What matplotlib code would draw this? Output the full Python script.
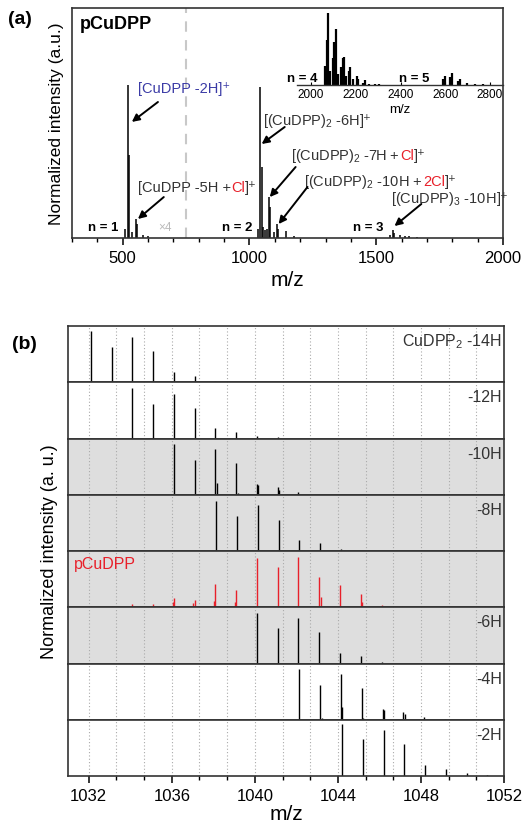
import numpy as np
import matplotlib
matplotlib.use('Agg')
import matplotlib.pyplot as plt
from matplotlib.ticker import MultipleLocator, AutoMinorLocator

plt.rcParams['font.family'] = ['Liberation Sans', 'DejaVu Sans']
plt.rcParams['mathtext.fontset'] = 'custom'
plt.rcParams['mathtext.rm'] = 'Liberation Sans'
plt.rcParams['mathtext.it'] = 'Liberation Sans:italic'
plt.rcParams['mathtext.bf'] = 'Liberation Sans:bold'
plt.rcParams['axes.linewidth'] = 1.2
plt.rcParams['axes.edgecolor'] = '#333333'

# ---- panel (a) data: peak m/z and normalized intensity ----
mz_n1 = [509, 520, 526, 537, 554, 557, 581, 600]
int_n1 = [0.06, 1.0, 0.54, 0.04, 0.124, 0.09, 0.02, 0.01]
mz_n2 = [1032, 1043, 1048, 1055, 1062, 1068, 1077, 1081, 1095, 1110, 1114, 1145, 1175]
int_n2 = [0.06, 0.985, 0.46, 0.07, 0.05, 0.06, 0.265, 0.20, 0.04, 0.09, 0.06, 0.045, 0.015]
mz_n3 = [1555, 1565, 1570, 1595, 1612, 1630, 1660]
int_n3 = [0.02, 0.05, 0.035, 0.02, 0.015, 0.01, 0.005]

# inset (n = 4, 5)
mz_in = [2062, 2070, 2074, 2085, 2097, 2104, 2112, 2122, 2134, 2141, 2146, 2156, 2168, 2174,
         2186, 2204, 2211, 2234, 2243, 2260, 2285, 2305,
         2591, 2598, 2623, 2632, 2657, 2665, 2695, 2732, 2769, 2800]
int_in = [0.27, 0.62, 1.0, 0.2, 0.37, 0.6, 0.78, 0.15, 0.25, 0.37, 0.39, 0.13, 0.2, 0.25,
          0.085, 0.12, 0.085, 0.03, 0.07, 0.01, 0.01, 0.01,
          0.085, 0.13, 0.11, 0.17, 0.05, 0.085, 0.03, 0.01, 0.01, 0.005]

# ---- panel (b) data: isotope patterns ----
labels_b = ['CuDPP$_2$ -14H', '-12H', '-10H', '-8H', 'pCuDPP', '-6H', '-4H', '-2H']
shaded_b = [False, False, True, True, True, True, False, False]

mz_14H = [1032.1, 1033.1, 1034.1, 1035.1, 1036.1, 1037.1, 1038.1]
int_14H = [0.91, 0.63, 0.81, 0.56, 0.19, 0.12, 0.03]
mz_12H = [1034.1, 1035.1, 1036.1, 1037.1, 1038.1, 1039.1, 1040.1, 1041.1]
int_12H = [0.89, 0.62, 0.80, 0.55, 0.19, 0.12, 0.05, 0.02]
mz_10H = [1036.1, 1037.1, 1038.1, 1039.1, 1040.1, 1041.1, 1042.1,
          1037.17, 1038.17, 1039.17, 1040.17, 1041.17]
int_10H = [0.90, 0.62, 0.81, 0.56, 0.19, 0.13, 0.05,
           0.02, 0.21, 0.03, 0.18, 0.08]
mz_8H = [1038.15, 1039.15, 1040.15, 1041.15, 1042.15, 1043.15, 1044.15]
int_8H = [0.89, 0.63, 0.81, 0.56, 0.19, 0.14, 0.04]
mz_p = [1032.1, 1033.1, 1034.1, 1035.1, 1036.1, 1037.1, 1038.1, 1039.1, 1040.1, 1041.1,
        1042.1, 1043.1, 1044.1, 1045.1, 1046.1, 1047.1, 1051.1,
        1036.04, 1037.04, 1038.04, 1039.04, 1043.17, 1044.17, 1045.17]
int_p = [0.02, 0.03, 0.065, 0.05, 0.17, 0.13, 0.41, 0.30, 0.87, 0.71,
         0.90, 0.54, 0.39, 0.24, 0.04, 0.03, 0.02,
         0.10, 0.07, 0.11, 0.09, 0.18, 0.03, 0.10]
mz_6H = [1040.1, 1041.1, 1042.1, 1043.1, 1044.1, 1045.1, 1046.1]
int_6H = [0.905, 0.625, 0.815, 0.565, 0.19, 0.13, 0.03]
mz_4H = [1042.15, 1043.15, 1044.15, 1045.15, 1046.15, 1047.15, 1048.15, 1049.15,
         1043.22, 1044.22, 1045.22, 1046.22, 1047.22]
int_4H = [0.90, 0.62, 0.81, 0.56, 0.19, 0.135, 0.05, 0.02,
          0.03, 0.22, 0.04, 0.18, 0.10]
mz_2H = [1044.2, 1045.2, 1046.2, 1047.2, 1048.2, 1049.2, 1050.2, 1051.2]
int_2H = [0.92, 0.65, 0.82, 0.57, 0.19, 0.13, 0.05, 0.02]

series_b = [(mz_14H, int_14H), (mz_12H, int_12H), (mz_10H, int_10H), (mz_8H, int_8H),
            (mz_p, int_p), (mz_6H, int_6H), (mz_4H, int_4H), (mz_2H, int_2H)]

RED = '#e8202a'
BLUE = '#3b3ba6'
TXT = '#333333'

fig = plt.figure(figsize=(5.28, 8.29), dpi=100)
W, H = 528, 829


def px_axes(l, t, r, b):
    return fig.add_axes([l / W, 1 - b / H, (r - l) / W, (b - t) / H])


# ================= panel (a) =================
ax = px_axes(72, 9, 503, 239)
for mz, it in [(mz_n1, int_n1), (mz_n2, int_n2), (mz_n3, int_n3)]:
    ax.vlines(mz, 0, it, color='k', lw=1.1)
ax.set_xlim(300, 2000)
ax.set_ylim(0, 1.5)
ax.set_yticks([])
ax.xaxis.set_major_locator(MultipleLocator(500))
ax.xaxis.set_minor_locator(MultipleLocator(100))
ax.tick_params(axis='x', which='major', labelsize=12, length=5, width=1.1, direction='out')
ax.tick_params(axis='x', which='minor', length=3, width=1.0, direction='out')
ax.set_xlabel('m/z', fontsize=15, labelpad=4)
ax.set_ylabel('Normalized intensity (a.u.)', fontsize=12.5, labelpad=6)
ax.axvline(750, color='#c8c8c8', lw=1.5, ls=(0, (5, 4)))

ax.text(330, 1.40, 'pCuDPP', fontsize=13, fontweight='bold', va='center')
ax.text(666, 0.07, '×4', fontsize=8.5, color='#bbbbbb', ha='center', va='center')
for x, s in [(422, 'n = 1'), (950, 'n = 2'), (1469, 'n = 3')]:
    ax.text(x, 0.07, s, fontsize=9.5, fontweight='bold', ha='center', va='center')

fig.canvas.draw()
renderer = fig.canvas.get_renderer()


def color_text(axx, x, y, parts, size=10.5):
    # write several coloured pieces one after another on one baseline
    for s, c in parts:
        t = axx.text(x, y, s, color=c, fontsize=size, va='baseline', ha='left')
        ext = t.get_window_extent(renderer)
        x = axx.transData.inverted().transform((ext.x1, ext.y0))[0]


color_text(ax, 561, 0.95, [('[CuDPP -2H]⁺', BLUE)])
color_text(ax, 1053, 0.745, [('[(CuDPP)$_2$ -6H', TXT), (']⁺', TXT)])
color_text(ax, 1165, 0.515, [('[(CuDPP)$_2$ -7H +', TXT), ('Cl', RED), (']⁺', TXT)])
color_text(ax, 1217, 0.343, [('[(CuDPP)$_2$ -10H +', TXT), ('2Cl', RED), (']⁺', TXT)])
color_text(ax, 1559, 0.235, [('[(CuDPP)$_3$ -10H', TXT), (']⁺', TXT)])
color_text(ax, 559, 0.305, [('[CuDPP -5H +', TXT), ('Cl', RED), (']⁺', TXT)])

arrows = [((639, 0.887), (536, 0.757)),
          ((1139, 0.724), (1048, 0.613)),
          ((1182, 0.463), (1080, 0.267)),
          ((1229, 0.333), (1115, 0.091)),
          ((1678, 0.222), (1572, 0.078)),
          ((662, 0.267), (560, 0.124))]
for tail, head in arrows:
    ax.annotate('', xy=head, xytext=tail,
                arrowprops=dict(arrowstyle='-|>', color='k', lw=1.4, mutation_scale=11,
                                shrinkA=0, shrinkB=0))

# inset
axi = px_axes(297, 12, 503, 86)
axi.vlines(mz_in, 0, int_in, color='k', lw=1.6)
axi.set_xlim(1937, 2858)
axi.set_ylim(0, 1.03)
axi.patch.set_alpha(0)
for sp in ['top', 'right', 'left']:
    axi.spines[sp].set_visible(False)
axi.spines['bottom'].set_linewidth(1.0)
axi.set_yticks([])
axi.xaxis.set_major_locator(MultipleLocator(200))
axi.tick_params(axis='x', labelsize=8.5, length=2.5, direction='in', pad=2)
axi.set_xlabel('m/z', fontsize=9.5, labelpad=2)
axi.text(1960, 0.02, 'n = 4', fontsize=9.5, fontweight='bold', ha='center', va='bottom')
axi.text(2463, 0.02, 'n = 5', fontsize=9.5, fontweight='bold', ha='center', va='bottom')

fig.text(8 / W, 1 - 20 / H, '(a)', fontsize=14, fontweight='bold', va='center')

# ================= panel (b) =================
top, bot = 327, 777
n = len(series_b)
hh = (bot - top) / n
for i, ((mz, it), lab, sh) in enumerate(zip(series_b, labels_b, shaded_b)):
    a = px_axes(68, top + i * hh, 504, top + (i + 1) * hh)
    if sh:
        a.set_facecolor('#dedede')
    col = RED if lab == 'pCuDPP' else 'k'
    a.vlines(mz, 0, it, color=col, lw=1.0)
    a.set_xlim(1031, 1052)
    a.set_ylim(0, 1.0)
    a.set_yticks([])
    a.xaxis.set_major_locator(MultipleLocator(4))
    a.xaxis.set_minor_locator(AutoMinorLocator(3))
    a.grid(which='both', axis='x', ls=(0, (1, 2)), color='#aaaaaa', lw=0.8)
    a.set_axisbelow(True)
    if lab == 'pCuDPP':
        a.text(0.014, 0.77, lab, color=RED, fontsize=11.5, transform=a.transAxes,
               ha='left', va='center')
    else:
        a.text(0.995, 0.74, lab, color=TXT, fontsize=11.5, transform=a.transAxes,
               ha='right', va='center')
    if i < n - 1:
        a.tick_params(axis='x', which='both', labelbottom=False, length=0)
    else:
        a.tick_params(axis='x', which='major', labelsize=12, length=5, width=1.1)
        a.tick_params(axis='x', which='minor', length=3, width=1.0)
        a.set_xlabel('m/z', fontsize=15, labelpad=1)

fig.text(50 / W, 1 - ((top + bot) / 2) / H, 'Normalized intensity (a. u.)', fontsize=13,
         rotation=90, ha='center', va='center')
fig.text(12 / W, 1 - 345 / H, '(b)', fontsize=14, fontweight='bold', va='center')

fig.savefig('out.png', dpi=100)
